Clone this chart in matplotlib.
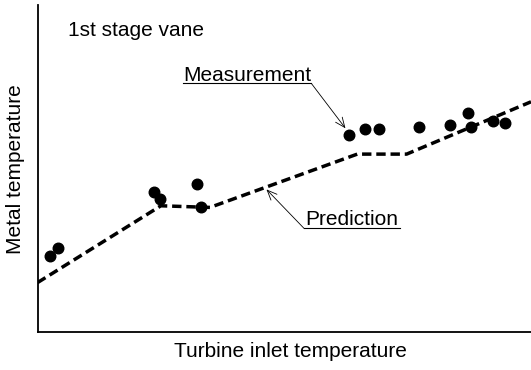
import matplotlib
matplotlib.use("Agg")
import matplotlib.pyplot as plt

plt.rcParams['font.family'] = ['Liberation Sans', 'DejaVu Sans']

meas_x = [2.55, 4.19, 23.6, 24.8, 32.3, 33.1, 63.1, 66.4, 69.1,
          77.4, 83.6, 87.2, 87.8, 92.2, 94.7]
meas_y = [23.2, 25.6, 42.7, 40.6, 45.3, 38.2, 60.3, 62.0, 62.0,
          62.7, 63.4, 67.1, 62.7, 64.6, 64.0]

# predicted curve
pred_x = [0, 25.0, 34.95, 64.8, 74.8, 100]
pred_y = [15.1, 38.6, 38.1, 54.4, 54.4, 70.4]

fig = plt.figure(figsize=(5.31, 3.70), dpi=100)
ax = fig.add_axes([37.5 / 531, 38 / 370, 1 - 37.5 / 531, 327 / 370])

ax.plot(pred_x, pred_y, color='black', lw=2.5, ls=(0, (2.7, 1.4)),
        solid_capstyle='butt', dash_capstyle='butt', zorder=2)
ax.plot(meas_x, meas_y, 'o', color='black', ms=7.6, zorder=3)

ax.set_xlim(0, 100)
ax.set_ylim(0, 100)
ax.set_xticks([])
ax.set_yticks([])
for side in ['top', 'right']:
    ax.spines[side].set_visible(False)
for side in ['left', 'bottom']:
    ax.spines[side].set_linewidth(1.3)

fs = 15
ax.text(6.1, 90.5, '1st stage vane', fontsize=fs, va='baseline', ha='left')

# Measurement label with underline and arrow
ax.text(29.5, 76.8, 'Measurement', fontsize=fs, va='baseline', ha='left')
ax.plot([29.5, 55.5], [76.0, 76.0], color='black', lw=0.8)
ax.annotate('', xy=(62.4, 62.3), xytext=(55.5, 76.0),
            arrowprops=dict(arrowstyle='->, head_length=0.7, head_width=0.3',
                            color='black', lw=0.6, shrinkA=0, shrinkB=0))

# Prediction label with underline and arrow
ax.text(54.2, 32.7, 'Prediction', fontsize=fs, va='baseline', ha='left')
ax.plot([54.0, 73.4], [31.7, 31.7], color='black', lw=0.8)
ax.annotate('', xy=(46.4, 43.6), xytext=(54.0, 31.7),
            arrowprops=dict(arrowstyle='->, head_length=0.7, head_width=0.3',
                            color='black', lw=0.6, shrinkA=0, shrinkB=0))

fig.text(15.2 / 531, 1 - 169 / 370, 'Metal temperature', fontsize=fs,
         rotation=90, ha='center', va='center')
fig.text(290.7 / 531, 1 - 351.7 / 370, 'Turbine inlet temperature',
         fontsize=fs, ha='center', va='center')

fig.savefig('out.png', dpi=100)
